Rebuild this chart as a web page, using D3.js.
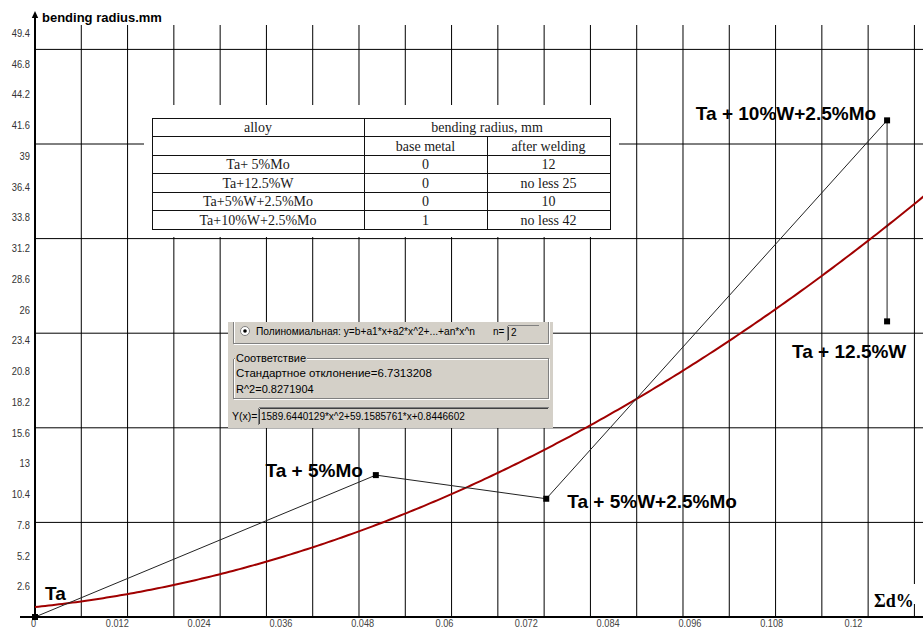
<!DOCTYPE html>
<html>
<head>
<meta charset="utf-8">
<script src="https://cdn.jsdelivr.net/npm/d3@7"></script>
<style>
  body { margin: 0; background: #fff; }
  svg { display: block; }
</style>
</head>
<body>
<svg id="chart" width="923" height="628"></svg>
<script>
// ---- data ----
const alloys = ["Ta", "Ta + 5%Mo", "Ta + 5%W+2.5%Mo", "Ta + 10%W+2.5%Mo", "Ta + 12.5%W"];
const sumDeformation = [0, 0.05, 0.075, 0.125, 0.125];   // Σd, %
const bendingRadius = [0, 12, 10, 42, 25];                // mm

// quadratic fit y = b + a1*x + a2*x^2
const fitCoefficients = [0.8446602, 59.1585761, 1589.6440129];
const fitStdDev = "6.7313208";
const fitR2 = "0.8271904";

const xTickValues = [0, 0.012, 0.024, 0.036, 0.048, 0.06, 0.072, 0.084, 0.096, 0.108, 0.12];
const xTickLabels = ["0", "0.012", "0.024", "0.036", "0.048", "0.06", "0.072", "0.084", "0.096", "0.108", "0.12"];
const yTickValues = [2.6, 5.2, 7.8, 10.4, 13, 15.6, 18.2, 20.8, 23.4, 26, 28.6, 31.2, 33.8, 36.4, 39, 41.6, 44.2, 46.8, 49.4];
const yTickLabels = ["2.6", "5.2", "7.8", "10.4", "13", "15.6", "18.2", "20.8", "23.4", "26", "28.6", "31.2", "33.8", "36.4", "39", "41.6", "44.2", "46.8", "49.4"];

const tableAlloys = ["Ta+ 5%Mo", "Ta+12.5%W", "Ta+5%W+2.5%Mo", "Ta+10%W+2.5%Mo"];
const tableBaseMetal = ["0", "0", "0", "1"];
const tableAfterWelding = ["12", "no less 25", "10", "no less 42"];

// ---- layout ----
const W = 923, H = 628;
const svg = d3.select("#chart");
const x = d3.scaleLinear().domain([0, 0.12]).range([35, 853]);
const y = d3.scaleLinear().domain([0, 48]).range([617, 49.4]);
const xGridStep = 0.00679;
const yGridStep = 8;

svg.append("rect").attr("width", W).attr("height", H).attr("fill", "#fff");

// ---- grid ----
const grid = svg.append("g").attr("stroke", "#000").attr("stroke-width", 1);
const xMax = x.invert(W);
for (let v = xGridStep; v < xMax; v += xGridStep) {
  grid.append("line").attr("x1", x(v)).attr("x2", x(v)).attr("y1", 25).attr("y2", y(0));
}
for (let v = yGridStep; v <= 48; v += yGridStep) {
  grid.append("line").attr("x1", x(0)).attr("x2", W).attr("y1", y(v)).attr("y2", y(v));
}

// ---- properties table ----
const tbl = svg.append("g");
tbl.append("rect").attr("x", 144).attr("y", 105).attr("width", 475).attr("height", 132).attr("fill", "#fff");
const colX = [152, 364, 487, 610];
const rowY = [118, 136.5, 155, 173.5, 192, 210.5, 229];
const tl = tbl.append("g").attr("stroke", "#111").attr("stroke-width", 1).attr("shape-rendering", "crispEdges");
tl.append("rect").attr("x", colX[0]).attr("y", rowY[0]).attr("width", colX[3] - colX[0]).attr("height", rowY[6] - rowY[0]).attr("fill", "none");
rowY.slice(1, 6).forEach(r => tl.append("line").attr("x1", colX[0]).attr("x2", colX[3]).attr("y1", r).attr("y2", r));
tl.append("line").attr("x1", colX[1]).attr("x2", colX[1]).attr("y1", rowY[0]).attr("y2", rowY[6]);
tl.append("line").attr("x1", colX[2]).attr("x2", colX[2]).attr("y1", rowY[1]).attr("y2", rowY[6]);
const cell = (txt, cx, r) => tbl.append("text")
  .attr("x", cx).attr("y", (rowY[r] + rowY[r + 1]) / 2 + 5)
  .attr("text-anchor", "middle")
  .attr("font-family", "Liberation Serif, Times New Roman, serif")
  .attr("font-size", 14).attr("fill", "#1a1a1a").text(txt);
cell("alloy", (colX[0] + colX[1]) / 2, 0);
cell("bending radius, mm", (colX[1] + colX[3]) / 2, 0);
cell("base metal", (colX[1] + colX[2]) / 2, 1);
cell("after welding", (colX[2] + colX[3]) / 2, 1);
tableAlloys.forEach((a, i) => {
  cell(a, (colX[0] + colX[1]) / 2, i + 2);
  cell(tableBaseMetal[i], (colX[1] + colX[2]) / 2, i + 2);
  cell(tableAfterWelding[i], (colX[2] + colX[3]) / 2, i + 2);
});

// ---- axes ----
const xAxis = svg.append("g").attr("transform", `translate(0,${y(0)})`)
  .call(d3.axisBottom(x).tickValues(xTickValues).tickSize(0).tickPadding(3)
    .tickFormat((d, i) => xTickLabels[i]));
xAxis.select(".domain").remove();
xAxis.selectAll("text").attr("font-family", "Liberation Sans, Arial, sans-serif")
  .attr("font-size", 10).attr("fill", "#444").attr("transform", "scale(0.92,1)");
xAxis.selectAll(".tick").filter(d => d === 0).select("text").attr("x", -2);

const yAxis = svg.append("g").attr("transform", `translate(${x(0)},0)`)
  .call(d3.axisLeft(y).tickValues(yTickValues).tickSize(0).tickPadding(6)
    .tickFormat((d, i) => yTickLabels[i]));
yAxis.select(".domain").remove();
yAxis.selectAll("text").attr("font-family", "Liberation Sans, Arial, sans-serif")
  .attr("font-size", 11).attr("fill", "#333").attr("transform", "scale(0.85,1)");

svg.append("line").attr("x1", 20).attr("x2", W).attr("y1", y(0)).attr("y2", y(0))
  .attr("stroke", "#000").attr("stroke-width", 2);
svg.append("line").attr("x1", x(0)).attr("x2", x(0)).attr("y1", y(0)).attr("y2", 16)
  .attr("stroke", "#000").attr("stroke-width", 2);
svg.append("path").attr("d", `M${x(0)},11 L${x(0) - 3.2},18 L${x(0) + 3.2},18 Z`).attr("fill", "#000");
svg.append("text").attr("x", 42).attr("y", 22)
  .attr("font-family", "Liberation Sans, Arial, sans-serif").attr("font-weight", "bold")
  .attr("font-size", 13).attr("fill", "#000").text("bending radius.mm");

// x-axis title on a white patch
svg.append("rect").attr("x", 870).attr("y", 584).attr("width", 47).attr("height", 20).attr("fill", "#fff");
svg.append("text").attr("x", 874).attr("y", 607)
  .attr("font-family", "Liberation Serif, Times New Roman, serif").attr("font-weight", "bold")
  .attr("font-size", 18).attr("fill", "#000").text("Σd%");

// ---- fitted curve ----
const fit = v => fitCoefficients[0] + fitCoefficients[1] * v + fitCoefficients[2] * v * v;
const fitXs = d3.range(0, xMax + 0.0005, 0.0005);
svg.append("path")
  .attr("d", d3.line().x(d => x(d)).y(d => y(fit(d)))(fitXs))
  .attr("fill", "none").attr("stroke", "#a00000").attr("stroke-width", 2);

// ---- measured points ----
const pts = alloys.map((a, i) => ({ name: a, sx: sumDeformation[i], r: bendingRadius[i] }));
svg.append("path")
  .attr("d", d3.line().x(d => x(d.sx)).y(d => y(d.r))(pts))
  .attr("fill", "none").attr("stroke", "#222").attr("stroke-width", 1);
svg.append("g").selectAll("rect").data(pts).join("rect")
  .attr("x", d => x(d.sx) - 3).attr("y", d => y(d.r) - 3)
  .attr("width", 6).attr("height", 6).attr("fill", "#000");

const labelPlacement = [
  { dx: 10, dy: -17, anchor: "start" },
  { dx: -13, dy: 2, anchor: "end" },
  { dx: 21, dy: 9, anchor: "start" },
  { dx: -11, dy: 0, anchor: "end" },
  { dx: -95, dy: 37, anchor: "start" }
];
svg.append("g").selectAll("text").data(pts).join("text")
  .attr("x", (d, i) => x(d.sx) + labelPlacement[i].dx)
  .attr("y", (d, i) => y(d.r) + labelPlacement[i].dy)
  .attr("text-anchor", (d, i) => labelPlacement[i].anchor)
  .attr("font-family", "Liberation Sans, Arial, sans-serif").attr("font-weight", "bold")
  .attr("font-size", 19).attr("fill", "#000").text(d => d.name);

// ---- regression dialog ----
const dlg = svg.append("g").attr("font-family", "Liberation Sans, Arial, sans-serif")
  .attr("font-size", 10).attr("fill", "#000");
const face = "#d4d0c8", shadow = "#808080", light = "#fff";
dlg.append("rect").attr("x", 228).attr("y", 322).attr("width", 325).attr("height", 106).attr("fill", face);
const edge = (x1, y1, x2, y2, c) => dlg.append("line").attr("x1", x1).attr("y1", y1).attr("x2", x2).attr("y2", y2)
  .attr("stroke", c).attr("stroke-width", 1).attr("shape-rendering", "crispEdges");
// option frame (top clipped)
edge(233.5, 322, 233.5, 343.5, shadow); edge(234.5, 322, 234.5, 343, light);
edge(548.5, 322, 548.5, 343.5, shadow); edge(549.5, 322, 549.5, 344.5, light);
edge(233.5, 343.5, 548.5, 343.5, shadow); edge(233.5, 344.5, 549.5, 344.5, light);
dlg.append("circle").attr("cx", 245).attr("cy", 331).attr("r", 4.5).attr("fill", "#fff").attr("stroke", shadow);
dlg.append("circle").attr("cx", 245).attr("cy", 331).attr("r", 1.8).attr("fill", "#000");
dlg.append("text").attr("x", 256).attr("y", 335).attr("font-size", 10.2)
  .text("Полиномиальная: y=b+a1*x+a2*x^2+...+an*x^n");
dlg.append("text").attr("x", 493).attr("y", 335).text("n=");
edge(507.5, 325.5, 538.5, 325.5, shadow); edge(507.5, 325.5, 507.5, 340.5, shadow);
edge(508.5, 326.5, 508.5, 339.5, "#404040");
dlg.append("text").attr("x", 511).attr("y", 336).text("2");

// goodness-of-fit group box
edge(233.5, 358.5, 548.5, 358.5, shadow); edge(233.5, 359.5, 547.5, 359.5, light);
edge(233.5, 358.5, 233.5, 398.5, shadow); edge(234.5, 359.5, 234.5, 397.5, light);
edge(548.5, 358.5, 548.5, 398.5, shadow); edge(549.5, 358.5, 549.5, 399.5, light);
edge(233.5, 398.5, 548.5, 398.5, shadow); edge(233.5, 399.5, 549.5, 399.5, light);
dlg.append("rect").attr("x", 235).attr("y", 353).attr("width", 72).attr("height", 10).attr("fill", face);
dlg.append("text").attr("x", 236).attr("y", 362).attr("font-size", 11).text("Соответствие");
dlg.append("text").attr("x", 236).attr("y", 377).attr("font-size", 11.5).text("Стандартное отклонение=" + fitStdDev);
dlg.append("text").attr("x", 236).attr("y", 393).attr("font-size", 11).text("R^2=" + fitR2);

// formula field (transparent face)
dlg.append("text").attr("x", 232).attr("y", 420).attr("font-size", 10.5).text("Y(x)=");
edge(258.5, 407.5, 548.5, 407.5, shadow); edge(258.5, 407.5, 258.5, 424.5, shadow);
edge(259.5, 408.5, 547.5, 408.5, "#404040"); edge(259.5, 408.5, 259.5, 423.5, "#404040");
edge(548.5, 407.5, 548.5, 424.5, face);
dlg.append("text").attr("x", 261).attr("y", 420)
  .text(`${fitCoefficients[2].toFixed(7)}*x^2+${fitCoefficients[1].toFixed(7)}*x+${fitCoefficients[0].toFixed(7)}`);
</script>
</body>
</html>
